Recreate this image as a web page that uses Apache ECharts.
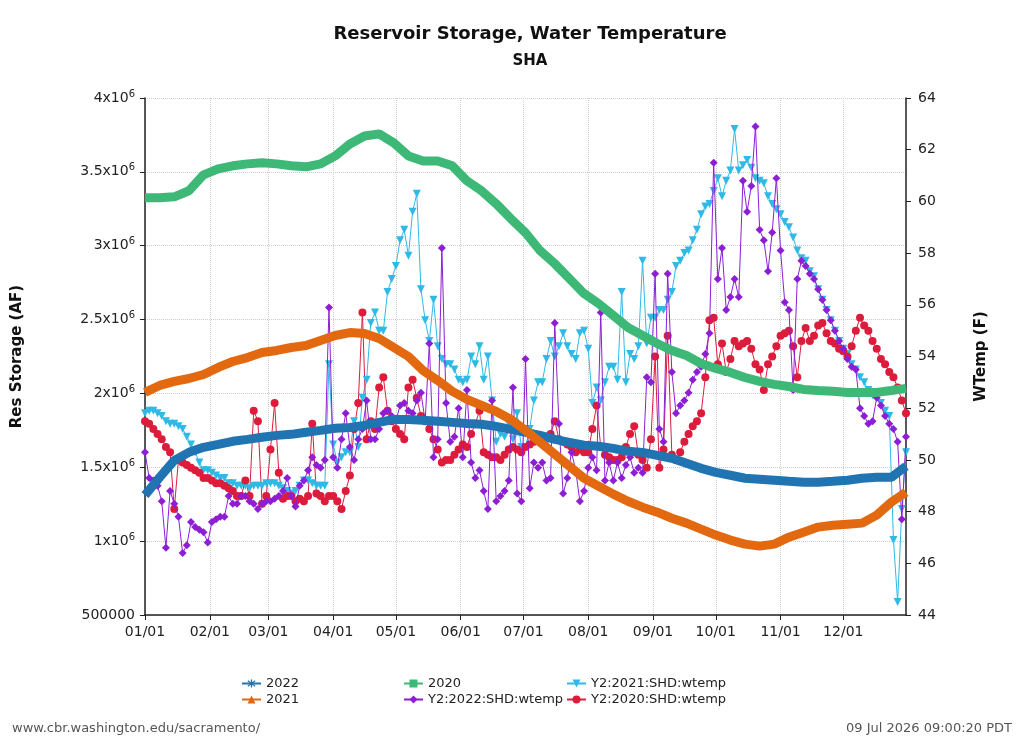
<!DOCTYPE html>
<html>
<head>
    <meta charset="utf-8">
    <style>
        body{
            width: 1024px;
            height: 744px;
            margin: 0;
            padding: 0;
            background: #fff;
        }
        #chart{
            width: 1024px;
            height: 744px;
        }
    </style>
</head>
<body>
    <div id="chart"></div>
    <script src="https://cdn.jsdelivr.net/npm/echarts/dist/echarts.min.js"></script>
    <script>
        // tick positions (day of year) and labels for the x axis
        var monthDays = [0, 31, 59, 90, 120, 151, 181, 212, 243, 273, 304, 334];
        var monthLabels = ["01/01", "02/01", "03/01", "04/01", "05/01", "06/01",
                           "07/01", "08/01", "09/01", "10/01", "11/01", "12/01"];

        // storage, one value per week (AF)
        var STORAGE_STEP = 7;
        var storage2022 = [1311000, 1432000, 1547000, 1601000, 1635000, 1655000, 1676000, 1689000, 1703000, 1716000,
                           1723000, 1737000, 1750000, 1764000, 1770000, 1784000, 1804000, 1824000, 1824000, 1818000,
                           1811000, 1804000, 1797000, 1791000, 1777000, 1757000, 1737000, 1716000, 1689000, 1669000,
                           1649000, 1642000, 1628000, 1608000, 1601000, 1581000, 1561000, 1527000, 1493000, 1466000,
                           1446000, 1426000, 1419000, 1412000, 1405000, 1399000, 1399000, 1405000, 1412000, 1426000,
                           1432000, 1432000, 1507000];
        var storage2021 = [2007000, 2054000, 2081000, 2101000, 2128000, 2176000, 2216000, 2243000, 2277000, 2291000,
                           2311000, 2324000, 2358000, 2392000, 2412000, 2405000, 2372000, 2311000, 2250000, 2155000,
                           2088000, 2014000, 1960000, 1919000, 1878000, 1824000, 1750000, 1669000, 1588000, 1507000,
                           1426000, 1372000, 1318000, 1270000, 1230000, 1196000, 1155000, 1122000, 1081000, 1041000,
                           1007000, 980000, 966000, 980000, 1027000, 1061000, 1095000, 1108000, 1115000, 1122000,
                           1176000, 1264000, 1331000];
        var storage2020 = [3324000, 3324000, 3331000, 3372000, 3480000, 3520000, 3541000, 3554000, 3561000, 3554000,
                           3541000, 3534000, 3554000, 3608000, 3689000, 3743000, 3757000, 3696000, 3608000, 3574000,
                           3574000, 3541000, 3439000, 3372000, 3284000, 3183000, 3088000, 2966000, 2878000, 2777000,
                           2676000, 2608000, 2527000, 2446000, 2392000, 2338000, 2291000, 2257000, 2203000, 2169000,
                           2142000, 2108000, 2081000, 2061000, 2047000, 2027000, 2020000, 2014000, 2007000, 2007000,
                           2007000, 2020000, 2034000];

        // water temperature, one value every 2 days (F)
        var TEMP_STEP = 2;
        var wtemp2022 = [50.3, 49.3, 49.2, 49.0, 48.4, 46.6, 48.8, 48.3, 47.8, 46.4,
                         46.7, 47.6, 47.4, 47.3, 47.2, 46.8, 47.6, 47.7, 47.8, 47.8,
                         48.6, 48.3, 48.3, 48.6, 48.6, 48.4, 48.3, 48.1, 48.3, 48.4,
                         48.4, 48.5, 48.6, 48.8, 49.3, 48.6, 48.2, 49.0, 49.2, 49.6,
                         50.1, 49.8, 49.7, 50.0, 55.9, 50.1, 49.7, 50.8, 51.8, 50.5,
                         50.0, 50.8, 51.2, 52.3, 50.8, 50.8, 51.2, 51.8, 51.9, 51.7,
                         51.5, 52.1, 52.2, 51.9, 51.8, 52.3, 52.6, 51.5, 54.5, 50.1,
                         50.8, 58.2, 52.2, 50.7, 50.9, 52.0, 50.1, 52.7, 49.9, 49.3,
                         49.6, 48.8, 48.1, 52.3, 48.4, 48.6, 48.8, 49.2, 52.8, 48.7,
                         48.4, 53.9, 48.9, 49.9, 49.7, 49.9, 49.2, 49.3, 55.3, 51.4,
                         48.7, 49.3, 50.3, 49.6, 48.4, 48.8, 49.7, 50.1, 49.6, 55.7,
                         49.2, 49.9, 49.2, 49.9, 49.3, 49.8, 50.1, 49.5, 49.7, 49.5,
                         53.2, 53.0, 57.2, 51.2, 50.7, 57.2, 53.4, 51.8, 52.1, 52.3,
                         52.6, 53.1, 53.4, 53.6, 54.1, 54.9, 61.5, 57.0, 58.2, 55.8,
                         56.3, 57.0, 56.3, 60.8, 59.6, 60.6, 62.9, 58.9, 58.5, 57.3,
                         58.8, 60.9, 58.1, 56.1, 55.8, 52.7, 57.0, 57.7, 57.5, 57.2,
                         57.0, 56.6, 56.2, 55.8, 55.4, 55.0, 54.6, 54.3, 53.9, 53.6,
                         53.5, 52.0, 51.7, 51.4, 51.5, 52.4, 52.1, 51.7, 51.4, 51.2,
                         50.7, 47.7, 50.9];
        var wtemp2021 = [51.8, 51.9, 51.9, 51.8, 51.7, 51.5, 51.4, 51.4, 51.3, 51.2,
                         50.9, 50.6, 50.3, 49.9, 49.6, 49.6, 49.5, 49.4, 49.3, 49.3,
                         49.1, 49.1, 49.0, 49.0, 49.0, 48.9, 49.0, 49.0, 49.0, 49.1,
                         49.1, 49.1, 49.0, 48.9, 48.8, 48.7, 48.8, 49.0, 49.2, 49.2,
                         49.1, 49.0, 49.0, 49.0, 53.7, 50.6, 49.9, 50.1, 50.3, 50.3,
                         51.5, 50.5, 52.4, 53.1, 55.3, 55.7, 55.0, 55.0, 56.5, 57.0,
                         57.5, 58.5, 58.9, 57.9, 59.6, 60.3, 56.6, 55.4, 54.6, 56.2,
                         54.4, 53.9, 53.7, 53.7, 53.5, 53.1, 53.0, 53.1, 54.0, 53.7,
                         54.4, 53.1, 54.0, 52.3, 50.7, 51.0, 50.9, 51.4, 50.8, 51.8,
                         50.5, 50.5, 51.2, 52.3, 53.0, 53.0, 53.9, 54.6, 54.0, 54.4,
                         54.9, 54.4, 54.1, 53.9, 54.9, 55.0, 54.3, 52.2, 52.8, 52.3,
                         53.0, 53.6, 53.6, 53.1, 56.5, 53.0, 54.1, 53.9, 54.4, 57.7,
                         54.5, 55.5, 55.5, 55.8, 55.8, 56.2, 56.5, 57.5, 57.7, 58.0,
                         58.1, 58.5, 58.9, 59.5, 59.8, 59.9, 60.4, 60.9, 60.2, 60.8,
                         61.2, 62.8, 61.2, 61.4, 61.6, 61.3, 60.9, 60.8, 60.7, 60.2,
                         59.9, 59.7, 59.5, 59.2, 59.0, 58.6, 58.1, 57.8, 57.7, 57.3,
                         57.1, 56.6, 56.2, 55.8, 55.4, 55.0, 54.6, 54.3, 54.1, 53.7,
                         53.5, 53.2, 53.0, 52.7, 52.5, 52.4, 52.2, 51.9, 51.7, 46.9,
                         44.5, 48.1, 50.3];
        var wtemp2020 = [51.5, 51.4, 51.2, 51.0, 50.8, 50.5, 50.3, 48.1, 50.0, 49.9,
                         49.8, 49.7, 49.6, 49.5, 49.3, 49.3, 49.2, 49.1, 49.1, 49.0,
                         48.9, 48.8, 48.6, 48.6, 49.2, 48.6, 51.9, 51.5, 48.3, 48.6,
                         50.4, 52.2, 49.5, 48.5, 48.6, 48.6, 48.4, 48.5, 48.4, 48.6,
                         51.4, 48.7, 48.6, 48.4, 48.6, 48.6, 48.4, 48.1, 48.8, 49.4,
                         51.2, 52.2, 55.7, 50.8, 51.5, 51.2, 52.8, 53.2, 51.9, 51.5,
                         51.2, 51.0, 50.8, 52.8, 53.1, 52.4, 51.7, 51.5, 51.2, 50.8,
                         50.4, 49.9, 50.0, 50.0, 50.2, 50.4, 50.6, 50.5, 51.0, 51.4,
                         51.9, 50.3, 50.2, 50.1, 50.1, 50.0, 50.2, 50.4, 50.5, 50.4,
                         50.3, 50.5, 50.6, 50.7, 50.8, 50.7, 50.5, 51.0, 51.5, 50.8,
                         50.7, 50.6, 50.5, 50.3, 50.4, 50.3, 50.3, 51.2, 52.1, 50.5,
                         50.2, 50.1, 50.0, 50.0, 50.1, 50.5, 51.0, 51.3, 50.2, 50.0,
                         49.7, 50.8, 54.0, 49.7, 50.4, 54.8, 50.2, 50.0, 50.3, 50.7,
                         51.0, 51.3, 51.5, 51.8, 53.2, 55.4, 55.5, 53.7, 54.5, 53.4,
                         53.9, 54.6, 54.4, 54.5, 54.6, 54.3, 53.7, 53.5, 52.7, 53.7,
                         54.0, 54.4, 54.8, 54.9, 55.0, 54.4, 53.2, 54.6, 55.1, 54.6,
                         54.8, 55.2, 55.3, 54.9, 54.6, 54.5, 54.3, 54.2, 54.0, 54.4,
                         55.0, 55.5, 55.2, 55.0, 54.6, 54.3, 53.9, 53.7, 53.4, 53.2,
                         52.8, 52.3, 51.8];
    </script>
    <script>
        var chart = echarts.init(document.getElementById("chart"));
        var FONT = "DejaVu Sans";

        var asterisk = "path://M4.2,0H5.8V10H4.2Z M0.2,2.3L1,0.9L9.8,7.7L9,9.1Z M0.2,7.7L9,0.9L9.8,2.3L1,9.1Z";

        function pairs(values, step){
            var out = [];
            for( var i = 0; i < values.length; i++ ){
                out.push([i * step, values[i]]);
            }
            return out;
        }

        function storageFmt(v){
            if( v === 500000 ) return "{a|500000}";
            return "{a|" + (v / 1e6) + "x10}{s|6}";
        }

        function storageSeries(name, color, symbol, data){
            return {
                name: name,
                type: "line",
                yAxisIndex: 0,
                z: 4,
                symbol: symbol,
                symbolSize: 9,
                showSymbol: false,
                lineStyle: { width: 9, color: color, cap: "butt" },
                itemStyle: { color: color },
                data: pairs(data, STORAGE_STEP)
            };
        }

        function tempSeries(name, color, symbol, size, z, data, rotate){
            return {
                name: name,
                type: "line",
                yAxisIndex: 1,
                z: z,
                symbol: symbol,
                symbolSize: size,
                symbolRotate: rotate || 0,
                showAllSymbol: true,
                lineStyle: { width: 1, color: color },
                itemStyle: { color: color },
                data: pairs(data, TEMP_STEP)
            };
        }

        var legendBase = {
            orient: "vertical",
            itemGap: 3,
            itemWidth: 19,
            itemHeight: 10,
            textStyle: { fontFamily: FONT, fontSize: 13, color: "#222" }
        };

        var option = {
            animation: false,
            title: {
                text: "Reservoir Storage, Water Temperature",
                subtext: "SHA",
                left: 525,
                textAlign: "center",
                top: 20,
                itemGap: 11,
                textStyle: { fontFamily: FONT, fontSize: 18, fontWeight: "bold", color: "#111" },
                subtextStyle: { fontFamily: FONT, fontSize: 15, fontWeight: "bold", color: "#111" }
            },
            legend: [
                Object.assign({}, legendBase, { left: 236, top: 672, data: ["2022", "2021"] }),
                Object.assign({}, legendBase, { left: 398, top: 672, data: ["2020", "Y2:2022:SHD:wtemp"] }),
                Object.assign({}, legendBase, { left: 561, top: 672, data: ["Y2:2021:SHD:wtemp", "Y2:2020:SHD:wtemp"] })
            ],
            grid: { left: 145, right: 118, top: 98, bottom: 129 },
            xAxis: {
                type: "value",
                min: 0,
                max: 364,
                axisLine: { show: true, onZero: false, lineStyle: { color: "#222", width: 1.5 } },
                axisTick: { show: true, customValues: monthDays, length: 5, lineStyle: { color: "#222" } },
                axisLabel: {
                    customValues: monthDays,
                    fontFamily: FONT, fontSize: 14, color: "#222", margin: 10,
                    formatter: function(v){ return monthLabels[monthDays.indexOf(v)]; }
                },
                splitLine: { show: true, lineStyle: { type: "dotted", color: "#ccc" } }
            },
            yAxis: [
                {
                    type: "value",
                    min: 500000,
                    max: 4000000,
                    interval: 500000,
                    name: "Res Storage (AF)",
                    nameLocation: "middle",
                    nameGap: 120,
                    nameTextStyle: { fontFamily: FONT, fontSize: 15, fontWeight: "bold", color: "#111" },
                    axisLine: { show: true, lineStyle: { color: "#222", width: 1.5 } },
                    axisTick: { show: true, length: 5, lineStyle: { color: "#222" } },
                    axisLabel: {
                        formatter: storageFmt,
                        margin: 10,
                        rich: {
                            a: { fontFamily: FONT, fontSize: 14, color: "#222", lineHeight: 18 },
                            s: { fontFamily: FONT, fontSize: 10, color: "#222", lineHeight: 10, verticalAlign: "top" }
                        }
                    },
                    splitLine: { show: true, lineStyle: { type: "dotted", color: "#ccc" } }
                },
                {
                    type: "value",
                    min: 44,
                    max: 64,
                    interval: 2,
                    position: "right",
                    name: "WTemp (F)",
                    nameLocation: "middle",
                    nameGap: 68,
                    nameRotate: 90,
                    nameTextStyle: { fontFamily: FONT, fontSize: 15, fontWeight: "bold", color: "#111" },
                    axisLine: { show: true, lineStyle: { color: "#222", width: 1.5 } },
                    axisTick: { show: true, length: 5, lineStyle: { color: "#222" } },
                    axisLabel: { fontFamily: FONT, fontSize: 14, color: "#222", margin: 12 },
                    splitLine: { show: false }
                }
            ],
            graphic: [
                { type: "text", left: 12, top: 722,
                  style: { text: "www.cbr.washington.edu/sacramento/", font: "13px 'DejaVu Sans'", fill: "#555" } },
                { type: "text", right: 12, top: 722,
                  style: { text: "09 Jul 2026 09:00:20 PDT", font: "13px 'DejaVu Sans'", fill: "#555" } }
            ],
            series: [
                storageSeries("2022", "#1f74b1", asterisk, storage2022),
                storageSeries("2021", "#e2690f", "triangle", storage2021),
                storageSeries("2020", "#3db877", "rect", storage2020),
                tempSeries("Y2:2021:SHD:wtemp", "#2fb9e6", "triangle", 8, 2, wtemp2021, 180),
                tempSeries("Y2:2020:SHD:wtemp", "#dd1c3c", "circle", 8, 2, wtemp2020),
                tempSeries("Y2:2022:SHD:wtemp", "#8d1ed4", "diamond", 8, 3, wtemp2022)
            ]
        };

        chart.setOption(option);
    </script>
</body>
</html>
